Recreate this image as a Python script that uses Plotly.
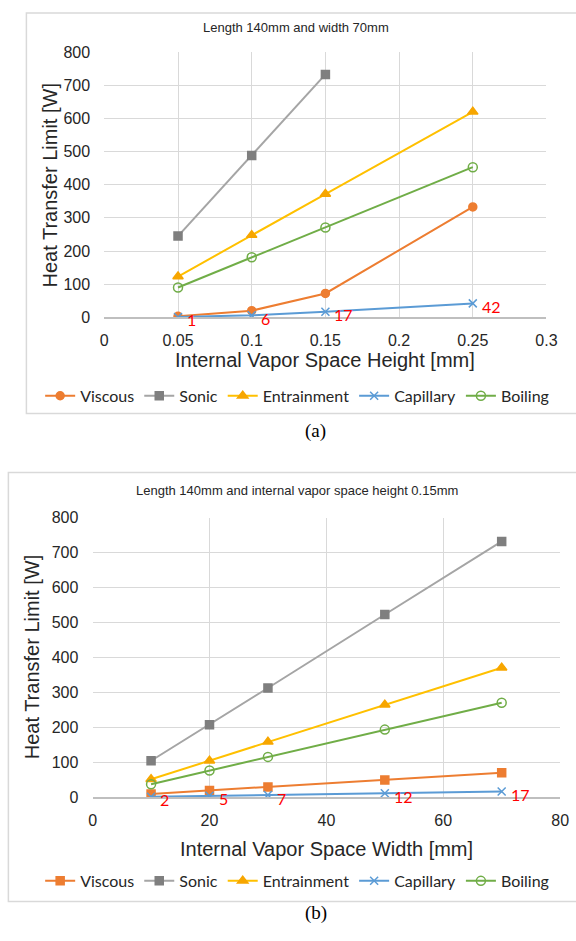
import plotly.graph_objects as go

W, H = 576, 941

# ---------- data (a) ----------
height_mm = [0.05, 0.1, 0.15, 0.25]
a_viscous = [3, 20, 72, 333]
a_sonic = [245, 488, 733]
a_entrain = [123, 248, 372, 620]
a_capillary = [1, 6, 17, 42]
a_boiling = [90, 181, 271, 453]
a_cap_labels = ["1", "6", "17", "42"]

# ---------- data (b) ----------
width_mm = [10, 20, 30, 50, 70]
b_viscous = [10, 20, 30, 50, 71]
b_sonic = [105, 208, 313, 523, 732]
b_entrain = [52, 105, 159, 265, 371]
b_capillary = [2, 5, 7, 12, 17]
b_boiling = [38, 77, 116, 194, 271]
b_cap_labels = ["2", "5", "7", "12", "17"]

series_names = ["Viscous", "Sonic", "Entrainment", "Capillary", "Boiling"]

C_VIS = "#ED7D31"
C_SON = "#A5A5A5"
C_SON_M = "#7F7F7F"
C_ENT = "#FFC000"
C_ENT_M = "#F7A600"
C_CAP = "#5B9BD5"
C_BOI = "#70AD47"


def px(x):
    return x / W


def py(y):
    return 1 - y / H


fig = go.Figure()


def add_series(xs, ys_list, xaxis, yaxis, legend, vis_symbol):
    styles = [
        dict(color=C_VIS, msym=vis_symbol, mcol=C_VIS, mline=C_VIS, msize=8),
        dict(color=C_SON, msym="square", mcol=C_SON_M, mline=C_SON_M, msize=8),
        dict(color=C_ENT, msym="triangle-up", mcol=C_ENT_M, mline=C_ENT_M, msize=9),
        dict(color=C_CAP, msym="x-thin-open", mcol=C_CAP, mline=C_CAP, msize=8),
        dict(color=C_BOI, msym="circle-open", mcol=C_BOI, mline=C_BOI, msize=9),
    ]
    for name, ys, st in zip(series_names, ys_list, styles):
        fig.add_trace(go.Scatter(
            x=xs[:len(ys)], y=ys, name=name, mode="lines+markers",
            line=dict(color=st["color"], width=2),
            marker=dict(symbol=st["msym"], color=st["mcol"], size=st["msize"],
                        line=dict(color=st["mline"], width=1.5)),
            xaxis=xaxis, yaxis=yaxis, legend=legend,
        ))


add_series(height_mm, [a_viscous, a_sonic, a_entrain, a_capillary, a_boiling],
           "x", "y", "legend", "circle")
add_series(width_mm, [b_viscous, b_sonic, b_entrain, b_capillary, b_boiling],
           "x2", "y2", "legend2", "square")

# red capillary labels
annotations = []
for xv, yv, t in zip(height_mm, a_capillary, a_cap_labels):
    annotations.append(dict(x=xv, y=yv, xref="x", yref="y", text=t, showarrow=False,
                            xanchor="left", yanchor="middle", xshift=7, yshift=-3,
                            font=dict(family="Lato", size=16, color="#FF0000")))
for xv, yv, t in zip(width_mm, b_capillary, b_cap_labels):
    annotations.append(dict(x=xv, y=yv, xref="x2", yref="y2", text=t, showarrow=False,
                            xanchor="left", yanchor="middle", xshift=7, yshift=-3,
                            font=dict(family="Lato", size=16, color="#FF0000")))

TXT = "#262626"
AX_FONT = dict(family="Liberation Sans", size=16, color=TXT)
TITLE_FONT = dict(family="Liberation Sans", size=20, color=TXT)


def text(x, y, t, font, angle=0):
    annotations.append(dict(x=px(x), y=py(y), xref="paper", yref="paper", text=t,
                            showarrow=False, xanchor="center", yanchor="middle",
                            textangle=angle, font=font))


# chart titles
text(300, 20, "Length 140mm and width 70mm", dict(family="Liberation Sans", size=13, color=TXT))
text(301, 491, "Length 140mm and internal vapor space height 0.15mm",
     dict(family="Liberation Sans", size=13, color=TXT))
# axis titles
text(330, 358, "Internal Vapor Space Height [mm]", TITLE_FONT)
text(47, 180, "Heat Transfer Limit [W]", TITLE_FONT, angle=-90)
text(331, 856, "Internal Vapor Space Width [mm]", TITLE_FONT)
text(29, 661, "Heat Transfer Limit [W]", TITLE_FONT, angle=-90)
# captions
text(320, 431, "(a)", dict(family="Liberation Serif", size=19, color="#000000"))
text(320, 922, "(b)", dict(family="Liberation Serif", size=19, color="#000000"))

shapes = [
    dict(type="rect", xref="paper", yref="paper", x0=px(23), x1=px(590), y0=py(5), y1=py(413),
         line=dict(color="#D9D9D9", width=1.5), fillcolor="rgba(0,0,0,0)", layer="below"),
    dict(type="rect", xref="paper", yref="paper", x0=px(4.5), x1=px(590), y0=py(473), y1=py(910),
         line=dict(color="#D9D9D9", width=1.5), fillcolor="rgba(0,0,0,0)", layer="below"),
]

axis_common = dict(showgrid=True, gridcolor="#D9D9D9", gridwidth=1, zeroline=False,
                   tickfont=AX_FONT, ticks="outside", tickcolor="rgba(0,0,0,0)")

fig.update_layout(
    width=W, height=H, margin=dict(l=0, r=0, t=0, b=0),
    paper_bgcolor="white", plot_bgcolor="white", showlegend=True,
    xaxis=dict(domain=[px(103), px(557)], range=[0, 0.3], dtick=0.05, tick0=0,
               anchor="y", ticklen=8, showline=True, linecolor="#BFBFBF", linewidth=1.5,
               **axis_common),
    yaxis=dict(domain=[py(315), py(45)], range=[0, 800], dtick=100, anchor="x",
               ticklen=10, **axis_common),
    xaxis2=dict(domain=[px(91), px(571)], range=[0, 80], dtick=20, tick0=0,
                anchor="y2", ticklen=8, showline=True, linecolor="#BFBFBF", linewidth=1.5,
                **axis_common),
    yaxis2=dict(domain=[py(804), py(519)], range=[0, 800], dtick=100, anchor="x2",
                ticklen=10, **axis_common),
    legend=dict(orientation="h", x=px(301), y=py(395), xanchor="center", yanchor="middle",
                font=dict(family="Lato", size=16, color=TXT), itemwidth=30,
                bgcolor="rgba(0,0,0,0)", tracegroupgap=0),
    legend2=dict(orientation="h", x=px(301), y=py(889), xanchor="center", yanchor="middle",
                 font=dict(family="Lato", size=16, color=TXT), itemwidth=30,
                 bgcolor="rgba(0,0,0,0)", tracegroupgap=0),
    annotations=annotations, shapes=shapes,
)

fig.write_html(
    "out.html",
    config={"displayModeBar": False},
    post_script="document.body.style.margin='0';document.body.style.padding='0';"
                "document.documentElement.style.overflow='hidden';",
)
